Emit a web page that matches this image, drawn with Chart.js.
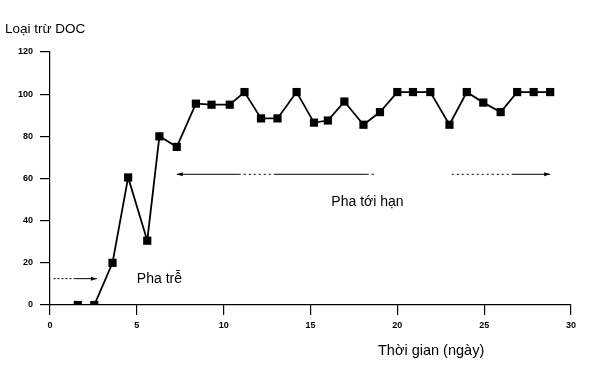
<!DOCTYPE html>
<html>
<head>
<meta charset="utf-8">
<script src="https://cdn.jsdelivr.net/npm/chart.js@4"></script>
<style>
  html, body { margin: 0; padding: 0; background: #fff; }
  #wrap { width: 606px; height: 372px; }
</style>
</head>
<body>
<div id="wrap"><canvas id="chart-doc" width="606" height="372"></canvas></div>
<script>
// ── data ──
const days       = [1.6, 2.55, 3.6, 4.5, 5.6, 6.3, 7.3, 8.4, 9.3, 10.35, 11.2, 12.15, 13.1, 14.2, 15.2, 16.0, 16.95, 18.05, 19.0, 20.0, 20.9, 21.9, 23.0, 24.0, 24.95, 25.95, 26.9, 27.85, 28.8];
const docRemoval = [0, 0, 20, 60.5, 30.5, 80, 75, 95.5, 95, 95, 101, 88.5, 88.5, 101, 86.5, 87.5, 96.5, 85.5, 91.5, 101, 101, 101, 85.5, 101, 96, 91.5, 101, 101, 101];
const xTicks     = [0, 5, 10, 15, 20, 25, 30];
const yTicks     = [0, 20, 40, 60, 80, 100, 120];

const TITLE_Y    = 'Loại trừ DOC';
const TITLE_X    = 'Thời gian (ngày)';
const LAG_LABEL  = 'Pha trễ';
const CRIT_LABEL = 'Pha tới hạn';

// arrows / labels in data units
const lagArrow  = { from: 0.2, to: 2.7, y: 12.5 };
const critArrow = { from: 7.3, to: 28.8, y: 62 };
const lagText   = { x: 5.0, y: 12.5 };
const critText  = { x: 16.2, y: 49 };

const FONT = 'Liberation Sans, Arial, sans-serif';

function arrowHead(ctx, x, y, dir) {
  ctx.beginPath();
  ctx.moveTo(x, y);
  ctx.lineTo(x - dir * 6, y - 2);
  ctx.lineTo(x - dir * 6, y + 2);
  ctx.closePath();
  ctx.fill();
}

const annotations = {
  id: 'annotations',
  afterDraw(chart) {
    const { ctx, scales: { x, y } } = chart;
    ctx.save();
    ctx.fillStyle = '#000';
    ctx.strokeStyle = '#000';
    ctx.lineWidth = 1;

    // lag phase arrow
    let py = y.getPixelForValue(lagArrow.y);
    let x1 = x.getPixelForValue(lagArrow.from), x2 = x.getPixelForValue(lagArrow.to);
    ctx.setLineDash([2, 2]);
    ctx.beginPath(); ctx.moveTo(x1, py); ctx.lineTo(x1 + 22, py); ctx.stroke();
    ctx.setLineDash([]);
    ctx.beginPath(); ctx.moveTo(x1 + 22, py); ctx.lineTo(x2, py); ctx.stroke();
    arrowHead(ctx, x2, py, 1);

    // critical phase arrow (broken line like the scan)
    py = y.getPixelForValue(critArrow.y);
    x1 = x.getPixelForValue(critArrow.from); x2 = x.getPixelForValue(critArrow.to);
    ctx.beginPath(); ctx.moveTo(x1, py); ctx.lineTo(x1 + 62, py); ctx.stroke();
    ctx.beginPath(); ctx.moveTo(x1 + 98, py); ctx.lineTo(x1 + 190, py); ctx.stroke();
    ctx.setLineDash([2, 3]);
    ctx.beginPath(); ctx.moveTo(x1 + 62, py); ctx.lineTo(x1 + 98, py); ctx.stroke();
    ctx.beginPath(); ctx.moveTo(x1 + 190, py); ctx.lineTo(x1 + 200, py); ctx.stroke();
    ctx.beginPath(); ctx.moveTo(x1 + 275, py); ctx.lineTo(x1 + 335, py); ctx.stroke();
    ctx.setLineDash([]);
    ctx.beginPath(); ctx.moveTo(x1 + 335, py); ctx.lineTo(x2, py); ctx.stroke();
    arrowHead(ctx, x1, py, -1);
    arrowHead(ctx, x2, py, 1);

    // phase labels
    ctx.font = '14px ' + FONT;
    ctx.textAlign = 'left';
    ctx.textBaseline = 'middle';
    ctx.fillText(LAG_LABEL, x.getPixelForValue(lagText.x), y.getPixelForValue(lagText.y));
    ctx.fillText(CRIT_LABEL, x.getPixelForValue(critText.x), y.getPixelForValue(critText.y));

    // axis titles
    ctx.font = '13.5px ' + FONT;
    ctx.fillText(TITLE_Y, 5, 29);
    ctx.font = '14.5px ' + FONT;
    ctx.fillText(TITLE_X, 378, 351);
    ctx.restore();
  }
};

new Chart(document.getElementById('chart-doc').getContext('2d'), {
  type: 'line',
  data: {
    datasets: [{
      label: 'DOC',
      data: days.map((d, i) => ({ x: d, y: docRemoval[i] })),
      borderColor: '#000',
      backgroundColor: '#000',
      borderWidth: 1.8,
      pointStyle: 'rect',
      pointRadius: 5.8,
      pointBackgroundColor: '#000',
      pointBorderWidth: 0,
      tension: 0
    }]
  },
  options: {
    responsive: false,
    animation: false,
    layout: { padding: { top: 52, right: 35, left: 0, bottom: 0 } },
    plugins: { legend: { display: false }, tooltip: { enabled: false } },
    scales: {
      x: {
        type: 'linear', min: 0, max: 30,
        afterFit: s => { s.height = 67; },
        afterBuildTicks: s => { s.ticks = xTicks.map(v => ({ value: v })); },
        border: { display: true, color: '#000', width: 1.2 },
        grid: { drawOnChartArea: false, drawTicks: true, tickLength: 10, color: '#000', lineWidth: 1.2 },
        ticks: { color: '#000', font: { family: FONT, size: 9, weight: 'bold' }, padding: 5, maxRotation: 0 }
      },
      y: {
        min: 0, max: 120,
        afterFit: s => { s.width = 50; },
        afterBuildTicks: s => { s.ticks = yTicks.map(v => ({ value: v })); },
        border: { display: true, color: '#000', width: 1.2 },
        grid: { drawOnChartArea: false, drawTicks: true, tickLength: 10, color: '#000', lineWidth: 1.2 },
        ticks: { color: '#000', font: { family: FONT, size: 9, weight: 'bold' }, padding: 7 }
      }
    }
  },
  plugins: [annotations]
});
</script>
</body>
</html>
